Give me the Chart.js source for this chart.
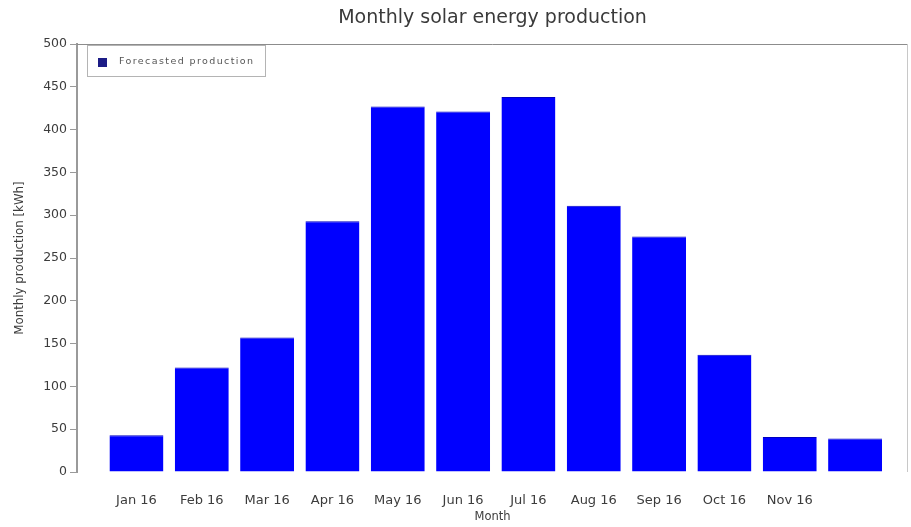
<!DOCTYPE html>
<html>
<head>
<meta charset="utf-8">
<script src="https://cdn.jsdelivr.net/npm/chart.js@4/dist/chart.umd.min.js"></script>
<style>
  html, body { margin: 0; padding: 0; background: #ffffff; }
  #wrap { width: 911px; height: 527px; position: relative; }
</style>
</head>
<body>
<div id="wrap"><canvas id="chart"></canvas></div>
<script>
// Month tick labels along the x axis
const tickLabels = ['Jan 16', 'Feb 16', 'Mar 16', 'Apr 16', 'May 16', 'Jun 16',
                    'Jul 16', 'Aug 16', 'Sep 16', 'Oct 16', 'Nov 16'];
// Forecasted monthly production in kWh, one value per month (Jan..Dec)
const production = [43, 122, 157, 293, 427, 421, 438, 311, 275, 137, 41, 39];
const seriesName = 'Forecasted production';
const chartTitle = 'Monthly solar energy production';
const xTitle = 'Month';
const yTitle = 'Monthly production [kWh]';

const FONT = '"DejaVu Sans", Verdana, sans-serif';
const GREY = '#9a9a9a';

// Frame along the top and right edges of the plot area
const framePlugin = {
  id: 'frame',
  afterDraw(chart) {
    const { ctx, chartArea: a } = chart;
    ctx.save();
    ctx.strokeStyle = '#8c8c8c';
    ctx.lineWidth = 1;
    ctx.beginPath();
    ctx.moveTo(a.left, a.top + 0.5);
    ctx.lineTo(a.right - 0.5, a.top + 0.5);
    ctx.stroke();
    ctx.strokeStyle = '#c8c8c8';
    ctx.beginPath();
    ctx.moveTo(a.right - 0.5, a.top);
    ctx.lineTo(a.right - 0.5, a.bottom);
    ctx.stroke();
    ctx.restore();
  }
};

// Boxed legend in the upper-left corner of the plot area
const boxLegend = {
  id: 'boxLegend',
  afterDraw(chart) {
    const { ctx, chartArea: a } = chart;
    const ds = chart.data.datasets[0];
    const x = a.left + 10, y = a.top + 1, w = 178, h = 31;
    ctx.save();
    ctx.fillStyle = '#ffffff';
    ctx.fillRect(x, y, w, h);
    ctx.strokeStyle = '#b4b4b4';
    ctx.lineWidth = 1;
    ctx.strokeRect(x + 0.5, y + 0.5, w, h);
    ctx.fillStyle = '#1c1c86';
    ctx.fillRect(x + 11, y + 13, 9, 9);
    ctx.fillStyle = '#555555';
    ctx.font = '9.5px ' + FONT;
    if ('letterSpacing' in ctx) ctx.letterSpacing = '1.4px';
    ctx.textBaseline = 'middle';
    ctx.fillText(ds.label, x + 32, y + 17);
    ctx.restore();
  }
};

const points = production.map((v, i) => ({ x: i, y: v }));

new Chart(document.getElementById('chart'), {
  type: 'bar',
  data: {
    datasets: [{
      label: seriesName,
      data: points,
      backgroundColor: '#0000ff',
      borderColor: '#0000c0',
      borderWidth: { top: 1, left: 0, right: 0, bottom: 0 },
      categoryPercentage: 1,
      barPercentage: 0.826
    }]
  },
  options: {
    responsive: true,
    maintainAspectRatio: false,
    animation: false,
    layout: { padding: { left: 9, right: 3, top: 0, bottom: 0 } },
    plugins: {
      legend: { display: false },
      tooltip: { enabled: false },
      title: {
        display: true,
        fullSize: false,
        text: chartTitle,
        color: '#3a3a3a',
        font: { family: FONT, size: 19, weight: 'normal' },
        padding: { top: 7, bottom: 14.2 }
      }
    },
    scales: {
      x: {
        type: 'linear',
        offset: false,
        min: -0.91,
        max: 11.81,
        afterBuildTicks(scale) {
          scale.ticks = production.map((_, i) => ({ value: i }));
        },
        afterFit(scale) { scale.height = 55; },
        grid: { display: false },
        border: { display: false },
        ticks: {
          autoSkip: false,
          maxRotation: 0,
          padding: 13,
          color: '#3c3c3c',
          font: { family: FONT, size: 13 },
          callback: (v) => tickLabels[v] ?? ''
        },
        title: {
          display: true,
          text: xTitle,
          color: '#3c3c3c',
          font: { family: FONT, size: 11.5 },
          padding: { top: 4, bottom: 3 }
        }
      },
      y: {
        min: 0,
        max: 500,
        afterFit(scale) { scale.width = 68; },
        grid: {
          display: true,
          drawOnChartArea: false,
          drawTicks: true,
          tickLength: 7,
          color: GREY
        },
        border: { display: true, color: GREY, width: 2 },
        ticks: {
          stepSize: 50,
          padding: 3,
          color: '#3c3c3c',
          font: { family: FONT, size: 12.5 }
        },
        title: {
          display: true,
          text: yTitle,
          color: '#3c3c3c',
          font: { family: FONT, size: 11.8 },
          padding: { top: 4, bottom: 4 }
        }
      }
    }
  },
  plugins: [framePlugin, boxLegend]
});
</script>
</body>
</html>
